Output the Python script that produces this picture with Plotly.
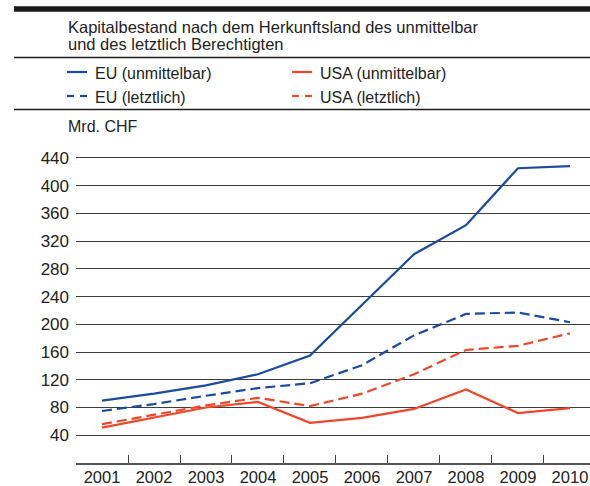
import plotly.graph_objects as go

years = ["2001", "2002", "2003", "2004", "2005", "2006", "2007", "2008", "2009", "2010"]
eu_unmittelbar = [90, 100, 112, 128, 155, 228, 301, 343, 425, 428]
eu_letztlich = [75, 85, 97, 108, 115, 141, 184, 215, 217, 203]
usa_unmittelbar = [51, 65, 80, 88, 58, 65, 78, 106, 72, 79]
usa_letztlich = [56, 70, 83, 94, 82, 100, 128, 163, 169, 187]
y_ticks = [40, 80, 120, 160, 200, 240, 280, 320, 360, 400, 440]

BLUE = "#1a4b9c"
RED = "#f0462a"
TXT = "#222222"
FONT = "Liberation Sans"

W, H = 590, 486
ML, MR, MT, MB = 76, 0, 144, 23
PW, PH = W - ML - MR, H - MT - MB


def px(x):
    return (x - ML) / PW


def py(y):
    return (H - MB - y) / PH


fig = go.Figure()
series = [
    ("EU (unmittelbar)", eu_unmittelbar, BLUE, "solid"),
    ("EU (letztlich)", eu_letztlich, BLUE, "10px,5px"),
    ("USA (unmittelbar)", usa_unmittelbar, RED, "solid"),
    ("USA (letztlich)", usa_letztlich, RED, "10px,5px"),
]
for name, vals, col, dash in series:
    fig.add_trace(go.Scatter(x=years, y=vals, mode="lines", name=name,
                             line=dict(color=col, width=2.2, dash=dash)))

shapes = []
# top thick bar and separators
shapes.append(dict(type="line", xref="paper", yref="paper", x0=px(14), x1=px(590),
                   y0=py(9), y1=py(9), line=dict(color="#1a1a1a", width=5.5)))
for yy in (57.5, 109.5):
    shapes.append(dict(type="line", xref="paper", yref="paper", x0=px(14), x1=px(590),
                       y0=py(yy), y1=py(yy), line=dict(color="#1a1a1a", width=1.3)))

annotations = []


def text(x, y, s, size=16, anchor="left"):
    annotations.append(dict(x=px(x), y=py(y), xref="paper", yref="paper", text=s,
                            showarrow=False, xanchor=anchor, yanchor="middle",
                            borderpad=0,
                            font=dict(family=FONT, size=size, color=TXT)))


text(67, 27.5, "Kapitalbestand nach dem Herkunftsland des unmittelbar", size=16.5)
text(67, 44, "und des letztlich Berechtigten", size=16.5)
text(67, 126.5, "Mrd. CHF")

# legend
leg = [
    (67, 72, "EU (unmittelbar)", BLUE, "solid"),
    (292, 72, "USA (unmittelbar)", RED, "solid"),
    (67, 96, "EU (letztlich)", BLUE, "dash"),
    (292, 96, "USA (letztlich)", RED, "dash"),
]
for x0, y0, name, col, dash in leg:
    if dash == "solid":
        shapes.append(dict(type="line", xref="paper", yref="paper", x0=px(x0), x1=px(x0 + 20),
                           y0=py(y0), y1=py(y0), line=dict(color=col, width=2.2)))
    else:
        for a, b in ((x0, x0 + 7), (x0 + 13, x0 + 20)):
            shapes.append(dict(type="line", xref="paper", yref="paper", x0=px(a), x1=px(b),
                               y0=py(y0), y1=py(y0), line=dict(color=col, width=2.2)))
    text(x0 + 27, y0 + 1, name)

fig.update_layout(
    width=W, height=H,
    margin=dict(l=ML, r=MR, t=MT, b=MB, pad=0, autoexpand=False),
    plot_bgcolor="white", paper_bgcolor="white",
    showlegend=False,
    shapes=shapes, annotations=annotations,
    font=dict(family=FONT, color=TXT),
)
fig.update_xaxes(type="category", range=[-0.5, 9.385], tickson="boundaries",
                 ticks="inside", ticklen=8, tickcolor="#444", tickwidth=1.3,
                 showline=True, linecolor="#555", linewidth=1.5, showgrid=False,
                 automargin=False, ticklabelstandoff=-2,
                 tickfont=dict(family=FONT, size=16.5, color=TXT), zeroline=False)
fig.update_yaxes(range=[0, 460], tickvals=y_ticks, showgrid=True, gridcolor="#3c3c3c",
                 gridwidth=1.1, zeroline=False, showline=False, ticks="",
                 ticklabelstandoff=6, automargin=False,
                 tickfont=dict(family=FONT, size=17, color=TXT))

fig.write_html("out.html", config={"displayModeBar": False},
               post_script="document.body.style.margin='0';document.body.style.overflow='hidden';")
